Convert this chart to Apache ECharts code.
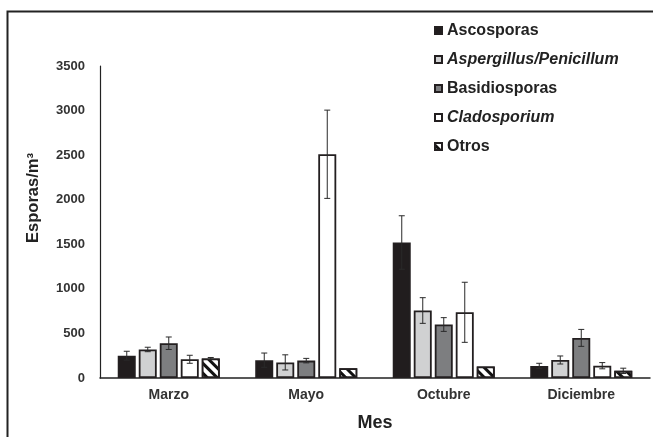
<!DOCTYPE html>
<html>
<head>
<meta charset="utf-8">
<script src="https://cdn.jsdelivr.net/npm/echarts@6/dist/echarts.min.js"></script>
<style>html,body{margin:0;padding:0;background:#fff;}#c{width:653px;height:437px;}</style>
</head>
<body>
<div id="c"></div>
<script>
const months = ['Marzo', 'Mayo', 'Octubre', 'Diciembre'];
const seriesNames = ['Ascosporas', 'Aspergillus/Penicillum', 'Basidiosporas', 'Cladosporium', 'Otros'];
const ascosporas = [250, 200, 1520, 135];
const aspergillus = [320, 175, 757, 202];
const basidiosporas = [390, 195, 600, 450];
const cladosporium = [210, 2510, 737, 138];
const otros = [220, 110, 130, 80];
const ascosporasErr = [50, 80, 300, 30];
const aspergillusErr = [25, 85, 144, 45];
const basidiosporasErr = [70, 25, 77, 95];
const cladosporiumErr = [45, 495, 337, 35];
const otrosErr = [10, 0, 0, 30];
const yTicks = [0, 500, 1000, 1500, 2000, 2500, 3000, 3500];

const values = [ascosporas, aspergillus, basidiosporas, cladosporium, otros];
const errors = [ascosporasErr, aspergillusErr, basidiosporasErr, cladosporiumErr, otrosErr];
const fills = ['#211d1e', '#d0d1d2', '#7d7e80', '#ffffff', '#ffffff'];
const BAR_W = 18, STEP = 21;
const FONT = 'Liberation Sans, Arial';

const chart = echarts.init(document.getElementById('c'));
const series = [];
values.forEach((v, i) => {
  const item = { color: fills[i], borderColor: '#231f20', borderWidth: 1.8 };
  if (i === 4) {
    item.decal = { symbol: 'rect', symbolSize: 1, dashArrayX: [1, 0], dashArrayY: [2.5, 3.5], rotation: Math.PI / 4, color: '#111', backgroundColor: '#fff' };
  }
  series.push({
    name: seriesNames[i], type: 'bar', data: v, barWidth: BAR_W, barGap: '16.7%',
    itemStyle: item, emphasis: { disabled: true }, z: 2
  });
});
values.forEach((v, i) => {
  series.push({
    type: 'custom', z: 5, silent: true,
    data: v.map((val, k) => [k, val, errors[i][k]]),
    renderItem: function (params, api) {
      const x = api.value(0), y = api.value(1), e = api.value(2);
      if (!e) return null;
      const off = (i - 2) * STEP;
      const top = api.coord([x, y + e]);
      const bot = api.coord([x, Math.max(0, y - e)]);
      const cx = top[0] + off;
      const cap = 3;
      const st = { stroke: '#2a2a2a', lineWidth: 1 };
      return { type: 'group', children: [
        { type: 'line', shape: { x1: cx, y1: top[1], x2: cx, y2: bot[1] }, style: st },
        { type: 'line', shape: { x1: cx - cap, y1: top[1], x2: cx + cap, y2: top[1] }, style: st },
        { type: 'line', shape: { x1: cx - cap, y1: bot[1], x2: cx + cap, y2: bot[1] }, style: st }
      ] };
    }
  });
});

chart.setOption({
  animation: false,
  backgroundColor: '#fff',
  grid: { left: 100, right: 3, top: 66, bottom: 59 },
  graphic: [
    { type: 'rect', shape: { x: 7.5, y: 11.5, width: 700, height: 500 }, style: { fill: 'none', stroke: '#222', lineWidth: 2 }, z: 100 },
    { type: 'text', x: 33, y: 198, rotation: Math.PI / 2, z: 100,
      style: { text: 'Esporas/m³', fontFamily: FONT, fontWeight: 'bold', fontSize: 16.5, fill: '#222', align: 'center', verticalAlign: 'middle' } }
  ],
  legend: {
    orient: 'vertical', left: 429, top: 16.5,
    itemWidth: 7, itemHeight: 7, itemGap: 11, icon: 'rect',
    data: seriesNames,
    textStyle: { fontFamily: FONT, fontWeight: 'bold', fontSize: 16, color: '#222', lineHeight: 18,
      rich: { i: { fontFamily: FONT, fontStyle: 'italic', fontWeight: 'bold', fontSize: 16, color: '#222' } } },
    formatter: function (n) { return (n === 'Aspergillus/Penicillum' || n === 'Cladosporium') ? '{i|' + n + '}' : n; }
  },
  xAxis: {
    type: 'category', data: months,
    name: 'Mes', nameLocation: 'middle', nameGap: 36,
    nameTextStyle: { fontFamily: FONT, fontWeight: 'bold', fontSize: 18, color: '#222' },
    axisLine: { lineStyle: { color: '#222', width: 1.5 } },
    axisTick: { show: false },
    axisLabel: { fontFamily: FONT, fontWeight: 'bold', fontSize: 14, color: '#333', margin: 10 }
  },
  yAxis: {
    type: 'value', min: 0, max: 3500, interval: 500,
    axisLine: { show: true, lineStyle: { color: '#222', width: 1.2 } },
    axisTick: { show: false },
    splitLine: { show: false },
    axisLabel: { fontFamily: FONT, fontWeight: 'bold', fontSize: 13, color: '#333', margin: 15,
      formatter: function (v) { return yTicks.indexOf(v) >= 0 ? String(v) : ''; } }
  },
  series: series
});
</script>
</body>
</html>
